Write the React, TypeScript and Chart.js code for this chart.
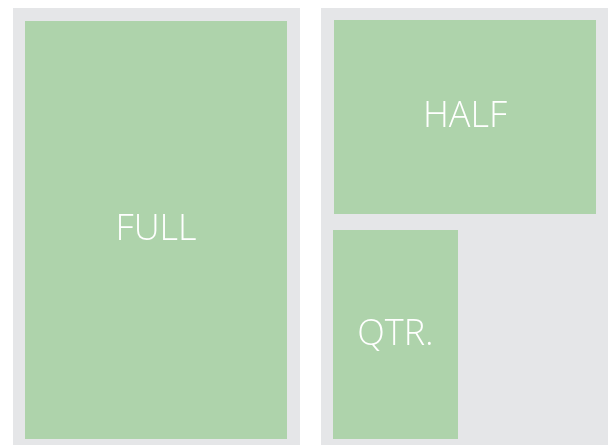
import React, { useEffect, useRef } from "react";
import { Chart, registerables } from "chart.js";

Chart.register(...registerables);

// Page panels (layout units)
const pageNames = ["Page 1", "Page 2"];
const pageX0 = [13, 321];
const pageX1 = [300, 608];
const pageY0 = [8, 8];
const pageY1 = [445, 445];

// Ad slots (layout units)
const adLabels = ["FULL", "HALF", "QTR."];
const adX0 = [25, 334, 333];
const adX1 = [287, 596, 458];
const adY0 = [21, 20, 230];
const adY1 = [439, 214, 439];

const PAGE_COLOR = "#e5e6e8";
const AD_COLOR = "#aed3ab";

const layoutPlugin = {
  id: "layoutBoxes",
  beforeDatasetsDraw(chart: any) {
    const { ctx, scales } = chart;
    const xs = scales.x;
    const ys = scales.y;
    ctx.save();
    pageNames.forEach((_, i) => {
      const l = xs.getPixelForValue(pageX0[i]);
      const r = xs.getPixelForValue(pageX1[i]);
      const t = ys.getPixelForValue(pageY0[i]);
      const b = ys.getPixelForValue(pageY1[i]);
      ctx.fillStyle = PAGE_COLOR;
      ctx.fillRect(l, t, r - l, b - t);
    });
    adLabels.forEach((lab, i) => {
      const l = xs.getPixelForValue(adX0[i]);
      const r = xs.getPixelForValue(adX1[i]);
      const t = ys.getPixelForValue(adY0[i]);
      const b = ys.getPixelForValue(adY1[i]);
      ctx.fillStyle = AD_COLOR;
      ctx.fillRect(l, t, r - l, b - t);
      ctx.fillStyle = "#ffffff";
      ctx.font = "300 36px 'Open Sans', sans-serif";
      ctx.textAlign = "center";
      ctx.textBaseline = "middle";
      ctx.fillText(lab, (l + r) / 2, (t + b) / 2);
    });
    ctx.restore();
  },
};

export default function App() {
  const ref = useRef<HTMLCanvasElement | null>(null);
  useEffect(() => {
    document.body.style.margin = "0";
    if (!ref.current) return;
    const chart = new Chart(ref.current, {
      type: "scatter",
      data: {
        datasets: [
          {
            label: "slots",
            data: adLabels.map((_, i) => ({
              x: (adX0[i] + adX1[i]) / 2,
              y: (adY0[i] + adY1[i]) / 2,
            })),
            pointRadius: 0,
          },
        ],
      },
      options: {
        animation: false,
        responsive: false,
        maintainAspectRatio: false,
        layout: { padding: 0 },
        plugins: { legend: { display: false }, tooltip: { enabled: false } },
        scales: {
          x: { type: "linear", min: 0, max: 613, display: false },
          y: { type: "linear", min: 0, max: 445, reverse: true, display: false },
        },
      },
      plugins: [layoutPlugin],
    });
    return () => chart.destroy();
  }, []);
  return (
    <div style={{ position: "absolute", left: 0, top: 0, width: 613, height: 445 }}>
      <canvas ref={ref} width={613} height={445} />
    </div>
  );
}
